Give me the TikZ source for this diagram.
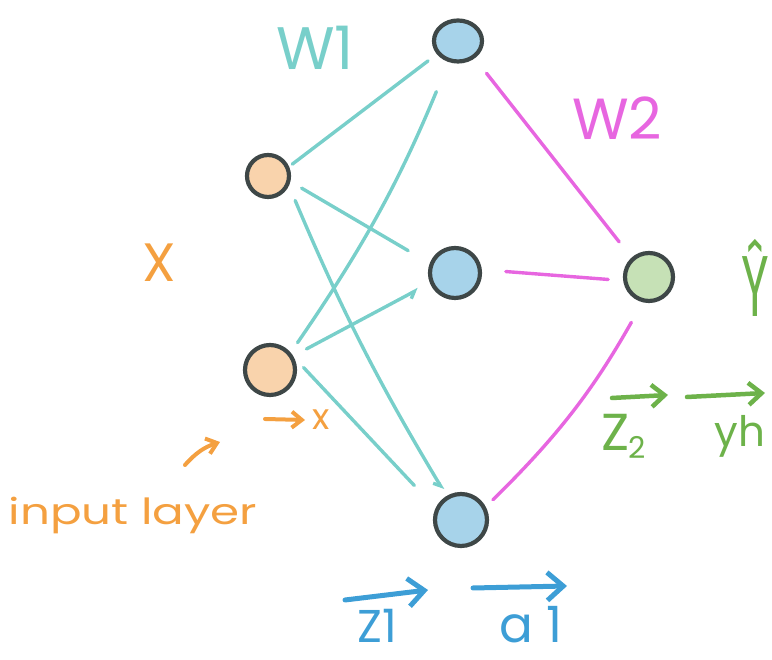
\documentclass[tikz,border=0pt]{standalone}
\usepackage{fontspec}
\setmainfont{Poppins}
\usetikzlibrary{arrows.meta,shapes.geometric}
\definecolor{tealc}{HTML}{78CFCA}
\definecolor{magc}{HTML}{E766E0}
\definecolor{orc}{HTML}{F4A040}
\definecolor{bluec}{HTML}{3D9ED6}
\definecolor{greenc}{HTML}{6DB24A}
\definecolor{edgec}{HTML}{3E4747}
\definecolor{orfill}{HTML}{F9D3AC}
\definecolor{bluefill}{HTML}{A7D3EA}
\definecolor{greenfill}{HTML}{C6E1B6}
\begin{document}
\begin{tikzpicture}[x=1pt,y=1pt,
  neuron/.style={circle, draw=edgec, line width=4.2pt, inner sep=0pt},
  wone/.style={draw=tealc, line width=3.4pt, line cap=round},
  wtwo/.style={draw=magc, line width=3.4pt, line cap=round},
  hook/.style={-{Straight Barb[right,length=6pt,width=10pt]}},
  lbl/.style={inner sep=0pt, anchor=base},
  barrow/.style={line width=5pt, line cap=round, -{Straight Barb[length=16pt,width=28pt,line width=5pt]}},
  garrow/.style={line width=4.5pt, line cap=round, draw=greenc, -{Straight Barb[length=13pt,width=22pt,line width=4.5pt]}},
  oarrow/.style={line width=4pt, line cap=round, draw=orc, -{Straight Barb[length=10pt,width=16pt,line width=4pt]}}
]
\useasboundingbox (0,0) rectangle (772,660);

% neurons
\node[neuron, fill=orfill, minimum size=42pt] (i1) at (268,484) {};
\node[neuron, fill=orfill, minimum size=50pt] (i2) at (270,290) {};
\node[ellipse, draw=edgec, line width=4.2pt, inner sep=0pt, fill=bluefill, minimum width=48pt, minimum height=41pt] (h1) at (458,619) {};
\node[neuron, fill=bluefill, minimum size=50pt] (h2) at (455,387) {};
\node[neuron, fill=bluefill, minimum size=52pt] (h3) at (461,140) {};
\node[neuron, fill=greenfill, minimum size=48pt] (o) at (649,383) {};

% W1 connections
\draw[wone, shorten <=4pt, shorten >=11pt] (i1.24) -- (h1.212);
\draw[wone, shorten <=13pt, shorten >=25pt] (i1.-14) -- (h2.159);
\draw[wone, hook, shorten <=16pt, shorten >=7pt] (i1.-25) to[bend right=4] (h3.121);
\draw[wone, shorten <=12pt, shorten >=32pt] (i2.40) to[bend right=6] (h1.246);
\draw[wone, hook, shorten <=15pt, shorten >=13pt] (i2.31) -- (h2.202);
\draw[wone, shorten <=14pt, shorten >=31pt] (i2.28) -- (h3.155);

% W2 connections
\draw[wtwo, shorten <=19pt, shorten >=20pt] (h1.-46) -- (o.132);
\draw[wtwo, shorten <=24pt, shorten >=15pt] (h2.7) -- (o.188);
\draw[wtwo, shorten <=10pt, shorten >=23pt] (h3.28) to[bend right=8] (o.256);

% labels
\node[lbl, text=tealc, font=\fontsize{60}{60}\selectfont] (lw1) at (315,590) {W1};
\node[lbl, text=magc, font=\fontsize{58}{58}\selectfont] (lw2) at (617,520) {W2};
\node[lbl, text=orc, font=\fontsize{54}{54}\selectfont] (lX) at (159,378) {X};
\node[lbl, text=greenc, font=\fontsize{86}{86}\selectfont, xscale=0.55] (lyhat) at (755,343) {Ŷ};
\node[lbl, text=orc, font=\fontsize{36}{36}\selectfont] (lx) at (321,230) {x};
\node[lbl, text=orc, font=\fontsize{36}{36}\selectfont, xscale=1.3] (lin) at (133,135) {input layer};
\node[lbl, text=bluec, font=\fontsize{46}{46}\selectfont] (lz1) at (377,17) {Z1};
\node[lbl, text=bluec, font=\fontsize{50}{50}\selectfont] (la1) at (531,17) {a 1};
\node[lbl, text=greenc, font=\fontsize{52}{52}\selectfont] (lz2) at (624,209) {Z\kern-1pt\raisebox{-8pt}{\fontsize{30}{30}\selectfont 2}};
\node[lbl, text=greenc, font=\fontsize{42}{42}\selectfont] (lyh) at (740,213) {yh};

% free arrows
\coordinate (ba1) at (345,60);
\coordinate (bb1) at (428,70);
\coordinate (ba2) at (473,72);
\coordinate (bb2) at (567,74);
\draw[barrow, draw=bluec] (ba1) -- (bb1);
\draw[barrow, draw=bluec] (ba2) -- (bb2);

\coordinate (ga1) at (612,262);
\coordinate (gb1) at (668,265);
\coordinate (ga2) at (687,263);
\coordinate (gb2) at (765,267);
\draw[garrow] (ga1) -- (gb1);
\draw[garrow] (ga2) -- (gb2);

\coordinate (oa1) at (265,241);
\coordinate (ob1) at (305,240);
\draw[oarrow] (oa1) -- (ob1);
\coordinate (oa2) at (185,195);
\coordinate (ob2) at (220,218);
\draw[oarrow] (oa2) to[bend left=15] (ob2);
\end{tikzpicture}
\end{document}
